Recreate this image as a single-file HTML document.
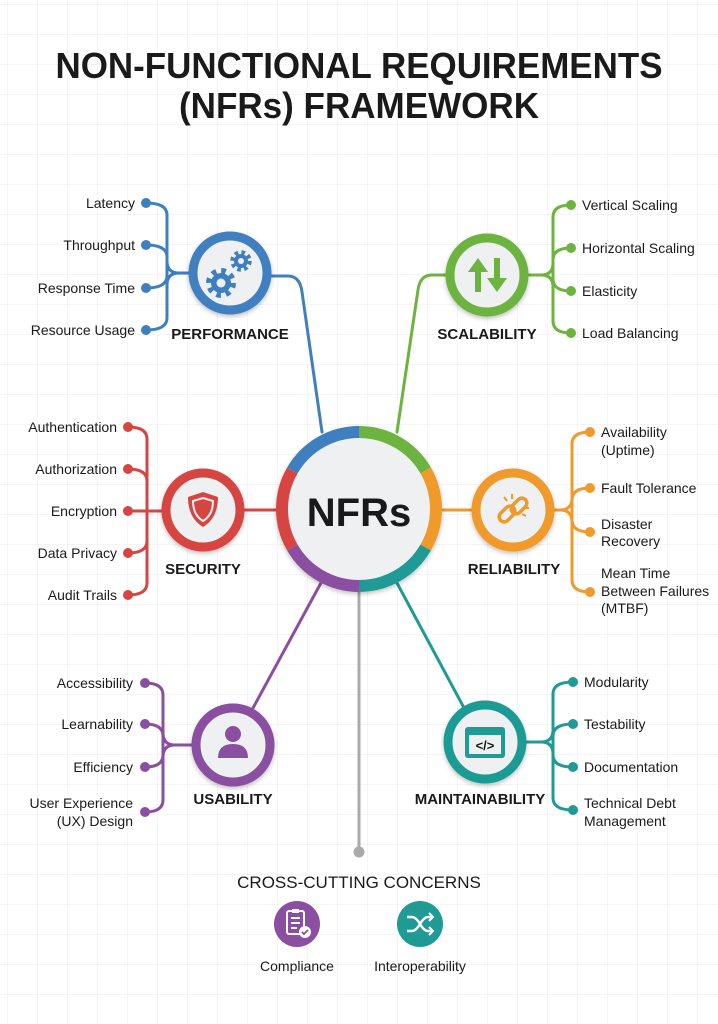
<!DOCTYPE html>
<html><head><meta charset="utf-8"><style>
html,body{margin:0;padding:0;background:#fff}
svg{display:block}
text{font-family:"Liberation Sans",Arial,sans-serif;fill:#1a1a1a}
.it{font-size:14px}
.r{text-anchor:end}
.cat{font-size:15px;font-weight:bold;text-anchor:middle}
</style></head><body>
<svg width="718" height="1024" viewBox="0 0 718 1024" xmlns="http://www.w3.org/2000/svg">
<defs>
<pattern id="g" width="30" height="30" patternUnits="userSpaceOnUse" x="8" y="5">
<path d="M30 0V30M0 30H30" fill="none" stroke="#ebebeb" stroke-width="1"/>
</pattern>
<filter id="sh" x="-30%" y="-30%" width="160%" height="160%"><feDropShadow dx="0" dy="2" stdDeviation="2.5" flood-opacity="0.25"/></filter>
</defs>
<rect width="718" height="1024" fill="#fff"/>
<rect width="718" height="1024" fill="url(#g)"/>

<text x="359" y="78" text-anchor="middle" font-size="36" font-weight="bold" textLength="607" lengthAdjust="spacingAndGlyphs">NON-FUNCTIONAL REQUIREMENTS</text>
<text x="359" y="118" text-anchor="middle" font-size="36" font-weight="bold" textLength="360" lengthAdjust="spacingAndGlyphs">(NFRs) FRAMEWORK</text>

<g fill="none" stroke-width="3" stroke-linecap="round">
<path d="M271,276 H288 Q300,276 302,292 L322,432" stroke="#3f7fc0"/>
<path d="M446,275 H432 Q420,275 418,290 L397,432" stroke="#6cb33f"/>
<path d="M244,510 H282" stroke="#d64541"/>
<path d="M436,510 H472" stroke="#ef9a2a"/>
<path d="M253,708 L322,581" stroke="#8a4fa0"/>
<path d="M463,706 L397,583" stroke="#1f9a94"/>
<path d="M359,592 V852" stroke="#aaa"/>
</g>
<circle cx="359" cy="852" r="5.5" fill="#aaa"/>

<g fill="none" stroke-width="3" stroke-linecap="round">
<g stroke="#3f7fc0">
<path d="M167,215 V318"/>
<path d="M146,203 Q167,203 167,215 M146,245 Q167,245 167,257 M146,288 Q167,288 167,276 M146,330 Q167,330 167,318"/>
<path d="M167,261 Q167,273 179,273 H189 M167,285 Q167,273 179,273"/>
</g>
<g stroke="#6cb33f">
<path d="M553,217 V321"/>
<path d="M571,205 Q553,205 553,217 M571,248 Q553,248 553,260 M571,291 Q553,291 553,279 M571,333 Q553,333 553,321"/>
<path d="M528,275 H541 Q553,275 553,263 M541,275 Q553,275 553,287"/>
</g>
<g stroke="#d64541">
<path d="M147,439 V583"/>
<path d="M128,427 Q147,427 147,439 M128,469 Q147,469 147,481 M128,553 Q147,553 147,541 M128,595 Q147,595 147,583 M128,511 H162"/>
</g>
<g stroke="#ef9a2a">
<path d="M572,444 V580"/>
<path d="M590,432 Q572,432 572,444 M590,488 Q572,488 572,500 M590,532 Q572,532 572,520 M590,592 Q572,592 572,580"/>
<path d="M554,510 H560 Q572,510 572,498 M560,510 Q572,510 572,522"/>
</g>
<g stroke="#8a4fa0">
<path d="M163,695 V800"/>
<path d="M145,683 Q163,683 163,695 M145,724 Q163,724 163,736 M145,767 Q163,767 163,755 M145,812 Q163,812 163,800"/>
<path d="M163,733 Q163,745 175,745 H192 M163,757 Q163,745 175,745"/>
</g>
<g stroke="#1f9a94">
<path d="M553,694 V798"/>
<path d="M573,682 Q553,682 553,694 M573,724 Q553,724 553,736 M573,767 Q553,767 553,755 M573,810 Q553,810 553,798"/>
<path d="M526,742 H541 Q553,742 553,730 M541,742 Q553,742 553,754"/>
</g>
</g>
<g fill="#3f7fc0"><circle cx="146" cy="203" r="5"/><circle cx="146" cy="245" r="5"/><circle cx="146" cy="288" r="5"/><circle cx="146" cy="330" r="5"/></g>
<g fill="#6cb33f"><circle cx="571" cy="205" r="5"/><circle cx="571" cy="248" r="5"/><circle cx="571" cy="291" r="5"/><circle cx="571" cy="333" r="5"/></g>
<g fill="#d64541"><circle cx="128" cy="427" r="5"/><circle cx="128" cy="469" r="5"/><circle cx="128" cy="511" r="5"/><circle cx="128" cy="553" r="5"/><circle cx="128" cy="595" r="5"/></g>
<g fill="#ef9a2a"><circle cx="590" cy="432" r="5"/><circle cx="590" cy="488" r="5"/><circle cx="590" cy="532" r="5"/><circle cx="590" cy="592" r="5"/></g>
<g fill="#8a4fa0"><circle cx="145" cy="683" r="5"/><circle cx="145" cy="724" r="5"/><circle cx="145" cy="767" r="5"/><circle cx="145" cy="812" r="5"/></g>
<g fill="#1f9a94"><circle cx="573" cy="682" r="5"/><circle cx="573" cy="724" r="5"/><circle cx="573" cy="767" r="5"/><circle cx="573" cy="810" r="5"/></g>

<circle cx="359" cy="509" r="83" fill="#eef0f2" filter="url(#sh)"/>
<g fill="none" stroke-width="12">
<path d="M292.32,470.5 A77,77 0 0 1 359,432" stroke="#3f7fc0"/>
<path d="M359,432 A77,77 0 0 1 425.68,470.5" stroke="#6cb33f"/>
<path d="M425.68,470.5 A77,77 0 0 1 425.68,547.5" stroke="#ef9a2a"/>
<path d="M425.68,547.5 A77,77 0 0 1 359,586" stroke="#1f9a94"/>
<path d="M359,586 A77,77 0 0 1 292.32,547.5" stroke="#8a4fa0"/>
<path d="M292.32,547.5 A77,77 0 0 1 292.32,470.5" stroke="#d64541"/>
</g>
<text x="359" y="526" text-anchor="middle" font-size="40" font-weight="bold" fill="#111">NFRs</text>

<g filter="url(#sh)">
<circle cx="230" cy="273" r="37" fill="#eef0f2" stroke="#3f7fc0" stroke-width="9"/>
<circle cx="487" cy="275" r="37" fill="#eef0f2" stroke="#6cb33f" stroke-width="9"/>
<circle cx="203" cy="510" r="37" fill="#eef0f2" stroke="#d64541" stroke-width="9"/>
<circle cx="513" cy="510" r="37" fill="#eef0f2" stroke="#ef9a2a" stroke-width="9"/>
<circle cx="233" cy="745" r="37" fill="#eef0f2" stroke="#8a4fa0" stroke-width="9"/>
<circle cx="485" cy="742" r="37" fill="#eef0f2" stroke="#1f9a94" stroke-width="9"/>
</g>

<g fill="#3f7fc0" stroke="#3f7fc0">
<circle cx="221" cy="283" r="10" stroke="none"/>
<circle cx="221" cy="283" r="12" fill="none" stroke-width="6" stroke-dasharray="4.5 4.9"/>
<circle cx="221" cy="283" r="4.5" fill="#eef0f2" stroke="none"/>
<circle cx="241" cy="261" r="7" stroke="none"/>
<circle cx="241" cy="261" r="8.5" fill="none" stroke-width="4.5" stroke-dasharray="3.5 3.2"/>
<circle cx="241" cy="261" r="3" fill="#eef0f2" stroke="none"/>
</g>
<g fill="#6cb33f">
<polygon points="478,258 468,272 475,272 475,292 481,292 481,272 488,272"/>
<polygon points="497,292 487,278 494,278 494,258 500,258 500,278 507,278"/>
</g>
<g>
<path d="M203,492 L218,497 Q218,518 203,527 Q188,518 188,497 Z" fill="#d64541"/>
<path d="M203,498 L213,501 Q213,515 203,521 Q193,515 193,501 Z" fill="none" stroke="#eef0f2" stroke-width="2"/>
</g>
<g fill="none" stroke="#ef9a2a" stroke-width="3.5">
<rect x="498" y="509" width="18" height="10" rx="5" transform="rotate(-45 507 514)"/>
<rect x="510" y="501" width="18" height="10" rx="5" transform="rotate(-45 519 506)"/>
<path d="M504,497 l3,4 M512,494 l0,5 M526,516 l-4,-2 M529,508 l-5,0" stroke-width="2"/>
</g>
<g fill="#8a4fa0">
<circle cx="233" cy="734" r="8"/>
<path d="M218,758 Q218,744 233,744 Q248,744 248,758 Z"/>
</g>
<g>
<rect x="465" y="727" width="40" height="31" rx="3" fill="#1f9a94"/>
<rect x="469" y="735" width="32" height="19" fill="#eef0f2"/>
<text x="485" y="750" text-anchor="middle" font-size="13" font-weight="bold" fill="#1f9a94">&lt;/&gt;</text>
</g>

<text class="cat" x="230" y="339">PERFORMANCE</text>
<text class="cat" x="487" y="339">SCALABILITY</text>
<text class="cat" x="203" y="574">SECURITY</text>
<text class="cat" x="514" y="574">RELIABILITY</text>
<text class="cat" x="233" y="804">USABILITY</text>
<text class="cat" x="480" y="804">MAINTAINABILITY</text>

<g class="it">
<text class="it r" x="135" y="208">Latency</text>
<text class="it r" x="135" y="250">Throughput</text>
<text class="it r" x="135" y="293">Response Time</text>
<text class="it r" x="135" y="335">Resource Usage</text>

<text class="it" x="582" y="210">Vertical Scaling</text>
<text class="it" x="582" y="253">Horizontal Scaling</text>
<text class="it" x="582" y="296">Elasticity</text>
<text class="it" x="582" y="338">Load Balancing</text>

<text class="it r" x="117" y="432">Authentication</text>
<text class="it r" x="117" y="474">Authorization</text>
<text class="it r" x="117" y="516">Encryption</text>
<text class="it r" x="117" y="558">Data Privacy</text>
<text class="it r" x="117" y="600">Audit Trails</text>

<text class="it" x="601" y="437">Availability</text>
<text class="it" x="601" y="455">(Uptime)</text>
<text class="it" x="601" y="493">Fault Tolerance</text>
<text class="it" x="601" y="529">Disaster</text>
<text class="it" x="601" y="546">Recovery</text>
<text class="it" x="601" y="578">Mean Time</text>
<text class="it" x="601" y="596">Between Failures</text>
<text class="it" x="601" y="613">(MTBF)</text>

<text class="it r" x="133" y="688">Accessibility</text>
<text class="it r" x="133" y="729">Learnability</text>
<text class="it r" x="133" y="772">Efficiency</text>
<text class="it r" x="133" y="808">User Experience</text>
<text class="it r" x="133" y="826">(UX) Design</text>

<text class="it" x="584" y="687">Modularity</text>
<text class="it" x="584" y="729">Testability</text>
<text class="it" x="584" y="772">Documentation</text>
<text class="it" x="584" y="808">Technical Debt</text>
<text class="it" x="584" y="826">Management</text>
</g>

<text x="359" y="888" text-anchor="middle" font-size="17">CROSS-CUTTING CONCERNS</text>
<circle cx="297" cy="924" r="23" fill="#8a4fa0"/>
<g fill="none" stroke="#fff" stroke-width="2">
<rect x="287" y="911" width="17" height="23" rx="2"/>
<path d="M291,918 h9 M291,923 h9 M291,928 h6"/>
</g>
<rect x="292" y="909" width="7" height="4" fill="#fff"/>
<circle cx="305" cy="932" r="6" fill="#fff"/>
<path d="M302,932 l2,2 l4,-4" fill="none" stroke="#8a4fa0" stroke-width="1.8"/>
<circle cx="420" cy="924" r="23" fill="#1f9a94"/>
<g fill="none" stroke="#fff" stroke-width="2.5">
<path d="M407,917 h5 q4,0 8,7 q4,7 8,7 h4 M407,931 h5 q4,0 8,-7 q4,-7 8,-7 h4"/>
<path d="M429,913 l4,4 l-4,4 M429,927 l4,4 l-4,4" stroke-width="2"/>
</g>
<text x="297" y="971" text-anchor="middle" font-size="14">Compliance</text>
<text x="420" y="971" text-anchor="middle" font-size="14">Interoperability</text>
</svg>
</body></html>
